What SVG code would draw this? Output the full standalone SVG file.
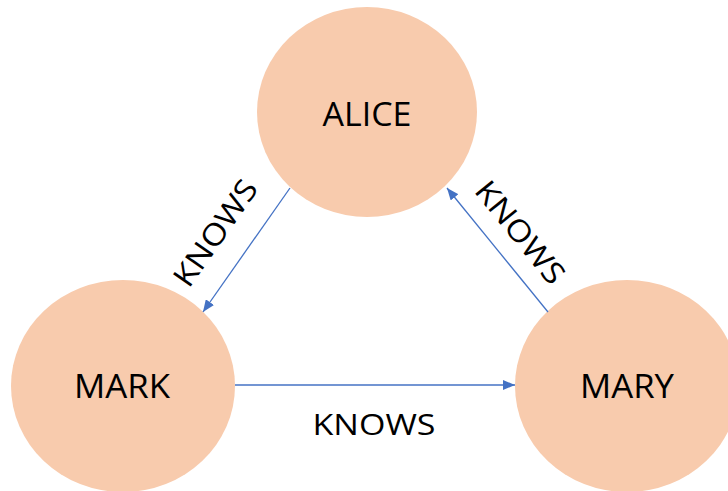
<svg xmlns="http://www.w3.org/2000/svg" width="728" height="491" viewBox="0 0 728 491">
  <style>
    .node { fill: #F8CBAD; }
    .name { font-family: "Open Sans", "Liberation Sans", Arial, sans-serif; font-size: 33px; fill: #000; text-anchor: middle; }
    .edge { stroke: #4472C4; stroke-width: 1.3; fill: none; marker-end: url(#arrow); }
    .rel { font-family: "Open Sans", "Liberation Sans", Arial, sans-serif; font-size: 30px; fill: #000; text-anchor: middle; }
  </style>
  <defs>
    <marker id="arrow" markerUnits="userSpaceOnUse" markerWidth="12" markerHeight="10" refX="12" refY="5" orient="auto">
      <path d="M0,0 L12,5 L0,10 z" fill="#4472C4"/>
    </marker>
  </defs>
  <rect width="728" height="491" fill="#fff"/>

  <g id="alice">
    <ellipse class="node" cx="367" cy="112" rx="110" ry="105"/>
    <text class="name" x="367" y="126" textLength="89" lengthAdjust="spacingAndGlyphs">ALICE</text>
  </g>
  <g id="mark">
    <ellipse class="node" cx="123" cy="386" rx="112" ry="106"/>
    <text class="name" x="122" y="398" textLength="96" lengthAdjust="spacingAndGlyphs">MARK</text>
  </g>
  <g id="mary">
    <ellipse class="node" cx="627" cy="386" rx="112" ry="106"/>
    <text class="name" x="627" y="398" textLength="94" lengthAdjust="spacingAndGlyphs">MARY</text>
  </g>

  <g id="connectors">
    <line class="edge" x1="290" y1="188" x2="203" y2="312"/>
    <line class="edge" x1="548" y1="312" x2="447" y2="188"/>
    <line class="edge" x1="235" y1="385" x2="515" y2="385"/>
    <text class="rel" transform="translate(224,239) rotate(-55)" textLength="123" lengthAdjust="spacingAndGlyphs">KNOWS</text>
    <text class="rel" transform="translate(512,239) rotate(51)" textLength="123" lengthAdjust="spacingAndGlyphs">KNOWS</text>
    <text class="rel" x="374" y="435" textLength="123" lengthAdjust="spacingAndGlyphs">KNOWS</text>
  </g>
</svg>
